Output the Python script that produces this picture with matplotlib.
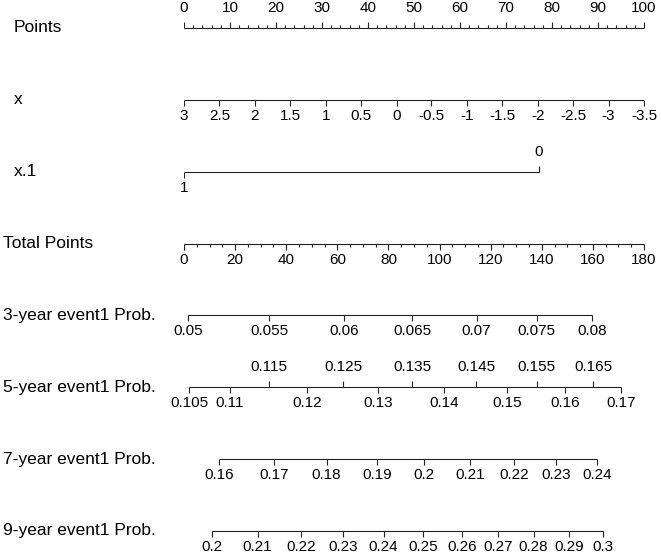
#!/usr/bin/env python

import numpy as np
import matplotlib.pyplot as plt
from matplotlib.transforms import blended_transform_factory

plt.rcParams['font.family'] = ['Liberation Sans', 'DejaVu Sans']

# Row names, top to bottom
row_names = ['Points', 'x', 'x.1', 'Total Points',
             '3-year event1 Prob.', '5-year event1 Prob.',
             '7-year event1 Prob.', '9-year event1 Prob.']

# Points scale
points_major = [0, 10, 20, 30, 40, 50, 60, 70, 80, 90, 100]
points_minor = list(range(0, 101, 2))

# x (continuous), position on points scale
x_labels = ['3', '2.5', '2', '1.5', '1', '0.5', '0', '-0.5', '-1', '-1.5', '-2', '-2.5', '-3', '-3.5']
x_points = [0, 7.7, 15.4, 23.1, 30.8, 38.5, 46.2, 53.8, 61.5, 69.2, 76.9, 84.6, 92.3, 100]

# x.1 (binary)
x1_labels = ['1', '0']
x1_points = [0, 77.2]

# Total points scale
total_major = [0, 20, 40, 60, 80, 100, 120, 140, 160, 180]
total_minor = list(range(0, 181, 5))
total_max = 180

# Probability scales: labels and where they sit on the total points scale
p3_labels = ['0.05', '0.055', '0.06', '0.065', '0.07', '0.075', '0.08']
p3_total = [1.5, 33.4, 62.6, 89.3, 114.5, 138.0, 159.7]

p5_labels = ['0.105', '0.11', '0.115', '0.12', '0.125', '0.13', '0.135',
             '0.14', '0.145', '0.15', '0.155', '0.16', '0.165', '0.17']
p5_total = [2.0, 18.0, 33.4, 48.1, 62.3, 76.0, 89.3,
            101.9, 114.3, 126.3, 138.0, 149.2, 160.2, 170.9]

p7_labels = ['0.16', '0.17', '0.18', '0.19', '0.2', '0.21', '0.22', '0.23', '0.24']
p7_total = [13.7, 35.3, 55.8, 75.4, 94.0, 111.9, 129.1, 145.6, 161.5]

p9_labels = ['0.2', '0.21', '0.22', '0.23', '0.24', '0.25', '0.26', '0.27', '0.28', '0.29', '0.3']
p9_total = [11.1, 28.8, 45.9, 62.3, 78.1, 93.6, 108.7, 123.0, 136.8, 150.6, 163.8]


FS = 11.0      # tick labels
FS_ROW = 12.5  # row names
LC = '#222222'


def draw_scale(ax, row, pos, labels, side, alt=None, minor=None):
    """side: 'up' or 'down' for labels/ticks; alt = indices whose label goes up"""
    pos = np.asarray(pos, dtype=float)
    ax.plot([pos.min(), pos.max()], [row, row], color=LC, lw=0.8, solid_capstyle='butt')
    if minor is not None:
        up = side == 'up'
        ax.plot(minor, [row] * len(minor), ls='none', marker=2 if up else 3,
                ms=2.0, mew=0.8, color=LC)
    for i, (p, lab) in enumerate(zip(pos, labels)):
        s = side
        if alt:
            s = 'up' if i in alt else 'down'
        ax.plot([p], [row], ls='none', marker=2 if s == 'up' else 3,
                ms=4.0, mew=0.8, color=LC)
        off = 20 if s == 'up' else -16
        ax.annotate(lab, (p, row), xytext=(0, off), textcoords='offset pixels',
                    ha='center', va='center', fontsize=FS)


def main():
    fig = plt.figure(figsize=(6.61, 5.54), dpi=100)
    ax = fig.add_axes([184 / 661, 0, 460 / 661, 1])
    ax.set_xlim(0, 100)
    row_gap = (531 - 28) / 7
    ax.set_ylim((554 - 28) / row_gap, -28 / row_gap)
    ax.axis('off')

    scale = 100 / total_max

    draw_scale(ax, 0, points_major, [str(v) for v in points_major], 'up', minor=points_minor)
    draw_scale(ax, 1, x_points, x_labels, 'down')
    draw_scale(ax, 2, x1_points, x1_labels, 'down', alt={1})
    draw_scale(ax, 3, np.array(total_major) * scale, [str(v) for v in total_major], 'down',
               minor=list(np.array(total_minor) * scale))
    draw_scale(ax, 4, np.array(p3_total) * scale, p3_labels, 'down')
    draw_scale(ax, 5, np.array(p5_total) * scale, p5_labels, 'down',
               alt={2, 4, 6, 8, 10, 12})
    draw_scale(ax, 6, np.array(p7_total) * scale, p7_labels, 'down')
    draw_scale(ax, 7, np.array(p9_total) * scale, p9_labels, 'down')

    tr = blended_transform_factory(fig.transFigure, ax.transData)
    for i, name in enumerate(row_names):
        xl = 14 / 661 if i < 3 else 3 / 661
        ax.text(xl, i, name, transform=tr, ha='left', va='center', fontsize=FS_ROW)

    fig.savefig('out.png', dpi=100)


if __name__ == "__main__":
    main()
